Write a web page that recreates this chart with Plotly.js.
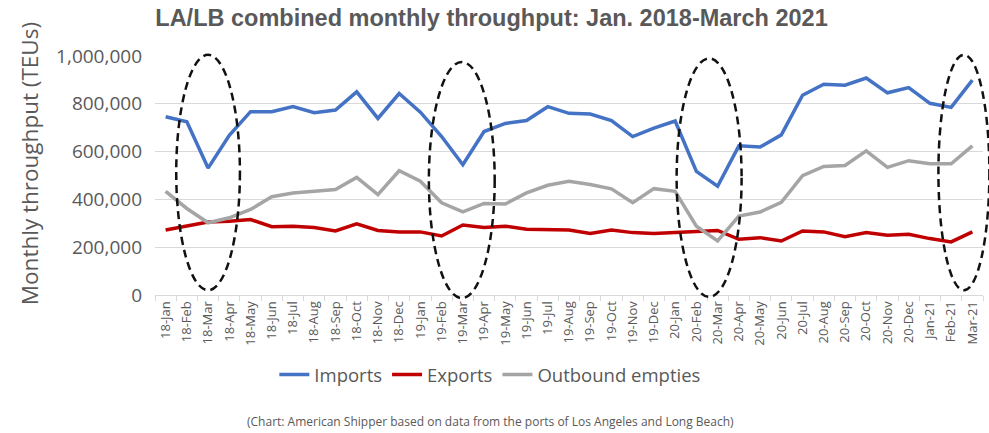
<!DOCTYPE html>
<html>
<head>
<meta charset="utf-8">
<script src="https://cdn.plot.ly/plotly-3.0.1.min.js"></script>
<style>
html,body{margin:0;padding:0;background:#fff;}
#chart{width:989px;height:433px;}
</style>
</head>
<body>
<div id="chart"></div>
<script>
const months = ['18-Jan','18-Feb','18-Mar','18-Apr','18-May','18-Jun','18-Jul','18-Aug','18-Sep','18-Oct','18-Nov','18-Dec',
  '19-Jan','19-Feb','19-Mar','19-Apr','19-May','19-Jun','19-Jul','19-Aug','19-Sep','19-Oct','19-Nov','19-Dec',
  '20-Jan','20-Feb','20-Mar','20-Apr','20-May','20-Jun','20-Jul','20-Aug','20-Sep','20-Oct','20-Nov','20-Dec',
  'Jan-21','Feb-21','Mar-21'];
const imports = [746000,725000,531000,668000,767000,767000,788000,763000,774000,850000,739000,843000,
  765000,663000,545000,684000,718000,730000,788000,760000,757000,730000,663000,698000,
  728000,517000,455000,624000,619000,670000,836000,882000,878000,908000,846000,868000,
  802000,785000,899000];
const exportsTEU = [272000,288000,305000,309000,316000,286000,288000,282000,268000,298000,270000,264000,
  264000,247000,293000,282000,288000,275000,275000,272000,257000,272000,261000,257000,
  261000,265000,270000,233000,240000,226000,268000,264000,244000,261000,250000,254000,
  236000,222000,264000];
const empties = [434000,362000,302000,323000,358000,411000,427000,434000,441000,492000,420000,520000,
  476000,386000,348000,383000,381000,427000,459000,476000,462000,444000,386000,445000,
  434000,288000,226000,330000,347000,388000,499000,538000,542000,603000,534000,562000,
  549000,549000,624000];
const seriesNames = ['Imports','Exports','Outbound empties'];
const highlighted = ['18-Mar','19-Mar','20-Mar','Mar-21'];
const yTicks = [0,200000,400000,600000,800000,1000000];
const titleText = 'LA/LB combined monthly throughput: Jan. 2018-March 2021';
const yTitle = 'Monthly throughput (TEUs)';
const sourceNote = '(Chart: American Shipper based on data from the ports of Los Angeles and Long Beach)';

const colors = ['#4472C4','#C00000','#A5A5A5'];
const data = [imports, exportsTEU, empties].map((vals, i) => ({
  type: 'scatter', mode: 'lines', x: months, y: vals, name: seriesNames[i],
  line: {color: colors[i], width: 3.5}, hoverinfo: 'skip'
}));

// ellipse styling: offsets (in categories) and vertical extents in paper units
const ellipseStyle = [
  {dx: 0, half: 1.5, y0: 0.02, y1: 1.005},
  {dx: -0.05, half: 1.55, y0: -0.013, y1: 0.975},
  {dx: -0.4, half: 1.53, y0: -0.008, y1: 0.99},
  {dx: -0.4, half: 1.2, y0: 0.02, y1: 1.005}
];
const n = months.length;
const shapes = highlighted.map((m, k) => {
  const idx = months.indexOf(m);
  const s = ellipseStyle[k];
  const c = idx + s.dx;
  return {
    type: 'circle', xref: 'paper', yref: 'paper',
    x0: (c - s.half + 0.5) / n, x1: (c + s.half + 0.5) / n,
    y0: s.y0, y1: s.y1,
    line: {color: '#111', width: 2.5, dash: '8px,5px'},
    fillcolor: 'rgba(0,0,0,0)', layer: 'above'
  };
});

const fontFam = '"Open Sans", sans-serif';
const layout = {
  width: 989, height: 433,
  margin: {l: 155, r: 6, t: 56, b: 138},
  paper_bgcolor: '#fff', plot_bgcolor: '#fff',
  font: {family: fontFam, color: '#595959'},
  title: {text: '<b>' + titleText + '</b>', x: 0.497, xanchor: 'center', y: 0.96, yanchor: 'middle',
    font: {family: '"Liberation Sans Narrow", sans-serif', size: 23.5, color: '#595959'}},
  xaxis: {
    type: 'category', range: [-0.5, n - 0.5], tickangle: -90,
    tickfont: {size: 13, color: '#595959'},
    showgrid: false, showline: true, linecolor: '#d9d9d9', linewidth: 1,
    ticks: 'outside', tickson: 'boundaries', ticklen: 5, tickcolor: '#d9d9d9',
    fixedrange: true
  },
  yaxis: {
    range: [0, 1000000], tickvals: yTicks,
    tickformat: ',d', tickfont: {size: 19, color: '#595959'},
    gridcolor: '#d9d9d9', gridwidth: 1, zeroline: false, showline: false, ticks: '',
    ticklabelstandoff: 12,
    fixedrange: true
  },
  legend: {orientation: 'h', x: 0.405, xanchor: 'center', y: -0.255, yanchor: 'top',
    font: {size: 18.5, color: '#595959'}, itemwidth: 30, tracegroupgap: 0},
  shapes: shapes,
  annotations: [
    {text: yTitle, xref: 'paper', yref: 'paper', x: -0.152, y: 0.548, xanchor: 'center', yanchor: 'middle',
     textangle: -90, showarrow: false, font: {size: 22.5, color: '#595959'}},
    {text: sourceNote, xref: 'paper', yref: 'paper', x: 0.405, y: -0.53, xanchor: 'center', yanchor: 'middle',
     showarrow: false, font: {size: 12, color: '#595959'}}
  ],
  showlegend: true
};
Plotly.newPlot('chart', data, layout, {staticPlot: true, displayModeBar: false});
</script>
</body>
</html>
